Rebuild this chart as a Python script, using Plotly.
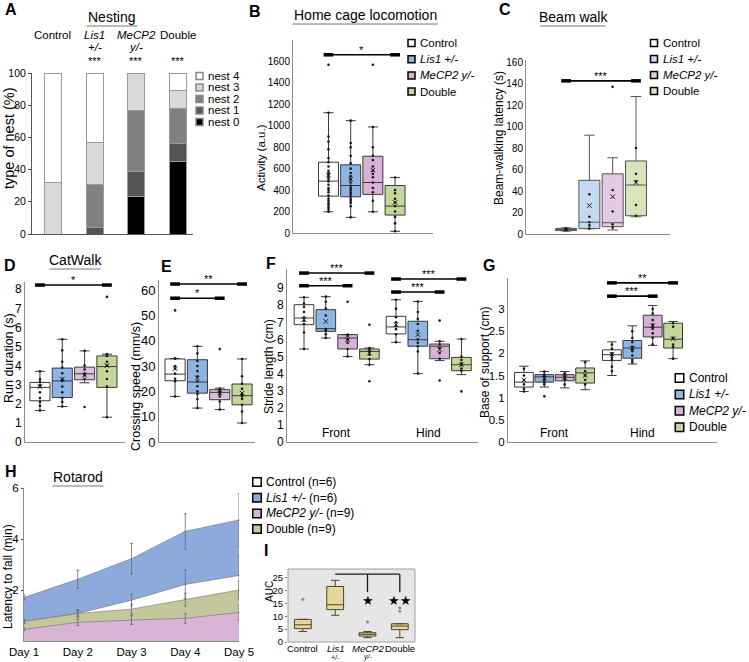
import plotly.graph_objects as go

W, H = 749, 662
FONT = 'Liberation Sans, Arial, sans-serif'

GROUPS = ['Control', 'Lis1 +/-', 'MeCP2 y/-', 'Double']
GROUP_HTML = ['Control', '<i>Lis1 +/-</i>', '<i>MeCP2 y/-</i>', 'Double']

# A - nesting, % of animals per nest score (per group: Control, Lis1, MeCP2, Double)
NEST_LEVELS = ['nest 0', 'nest 1', 'nest 2', 'nest 3', 'nest 4']
NEST_0 = [0, 0, 23, 45]
NEST_1 = [0, 4, 16, 11]
NEST_2 = [0, 27, 38, 22]
NEST_3 = [32, 26, 23, 11]
NEST_4 = [68, 43, 0, 11]
NEST_SIG = ['', '***', '***', '***']

# B - home cage locomotion (a.u.)
B_HI = [1122, 1048, 989, 518]
B_Q3 = [660, 636, 716, 443]
B_MED = [484, 443, 471, 251]
B_Q1 = [344, 338, 360, 167]
B_LO = [198, 146, 198, 16]
B_MEAN = [540, 502, 586, 285]
B_PTS = [
    [1569, 1122, 900, 850, 780, 700, 660, 620, 580, 560, 540, 520, 500, 480,
     450, 420, 400, 380, 350, 320, 300, 280, 260, 240, 220, 198],
    [1048, 840, 800, 720, 650, 600, 560, 530, 500, 470, 440, 420, 400, 380,
     360, 340, 320, 300, 280, 250, 146],
    [1569, 989, 800, 720, 680, 620, 580, 550, 520, 470, 420, 380, 300, 198],
    [518, 400, 370, 320, 285, 250, 200, 150, 90, 16],
]

# C - beam walk latency (s)
C_HI = [5.6, 92, 71, 128]
C_Q3 = [5.2, 50, 56, 68]
C_MED = [4.0, 11, 10.5, 45.6]
C_Q1 = [3.2, 5, 6.8, 17]
C_LO = [2.8, 5, 3.7, 16]
C_MEAN = [4.1, 26.5, 34.7, 48]
C_PTS = [
    [5.2, 4.5, 4.0, 3.5],
    [37, 16, 11, 8, 5],
    [137, 41, 21, 9, 6],
    [80, 56, 49, 27, 17],
]

# D - CatWalk run duration (s)
D_HI = [3.7, 5.38, 4.77, 4.6]
D_Q3 = [3.12, 3.87, 3.92, 4.51]
D_MED = [2.86, 3.2, 3.57, 3.95]
D_Q1 = [2.16, 2.33, 3.26, 2.86]
D_LO = [1.65, 1.86, 3.1, 1.3]
D_MEAN = [2.9, 3.3, 3.5, 4.0]
D_PTS = [
    [3.7, 3.3, 3.15, 3.0, 2.9, 2.6, 2.3, 2.1, 1.9, 1.65],
    [5.38, 4.8, 4.2, 3.9, 3.6, 3.3, 3.2, 2.9, 2.6, 2.3, 2.1, 1.86],
    [4.77, 4.0, 3.8, 3.6, 3.5, 3.3, 1.83],
    [7.6, 4.6, 4.5, 4.2, 4.0, 3.7, 3.3, 2.9, 1.3],
]

# E - crossing speed (mm/s)
E_HI = [33, 37.8, 21.3, 32.8]
E_Q3 = [32.8, 32.5, 20.7, 22.9]
E_MED = [26.8, 23.7, 19.6, 18.3]
E_Q1 = [24.2, 19.3, 16.7, 14.7]
E_LO = [18, 13.4, 12.8, 7.5]
E_MEAN = [29, 25.3, 19.3, 19.3]
E_PTS = [
    [52, 33, 33, 30, 29, 27, 25, 24, 18],
    [37.8, 35, 32, 30, 28, 26, 24, 22, 20, 19, 17, 13.4],
    [36.7, 21, 20.5, 20, 19, 18, 16, 12.8],
    [32.8, 26, 23, 21, 19, 18.5, 18, 17, 14.7, 12, 7.5],
]

# F - stride length (cm), Front groups then Hind groups
F_HI = [8.46, 8.5, 6.28, 5.5, 8.32, 8.22, 5.89, 6.02]
F_Q3 = [8.03, 7.74, 6.28, 5.44, 7.35, 7.06, 5.73, 4.95]
F_MED = [7.25, 6.63, 6.08, 5.3, 6.73, 5.98, 5.6, 4.52]
F_Q1 = [6.86, 6.47, 5.44, 4.85, 6.32, 5.6, 4.87, 4.17]
F_LO = [5.44, 6.08, 5.0, 4.52, 5.83, 4.0, 4.76, 3.94]
F_MEAN = [7.15, 7.05, 5.98, 5.2, 6.86, 6.28, 5.4, 4.52]
F_PTS = [
    [8.46, 8.1, 7.9, 7.6, 7.3, 7.1, 6.9, 6.4, 5.44],
    [8.5, 8.2, 7.8, 7.4, 6.6, 6.5, 6.3, 6.08],
    [8.2, 6.28, 6.2, 6.0, 5.8, 5.44, 5.0],
    [6.86, 5.5, 5.4, 5.3, 5.1, 4.85, 4.52, 3.55],
    [8.32, 7.8, 7.3, 7.0, 6.8, 6.6, 6.3, 5.83],
    [8.22, 7.6, 7.2, 6.9, 6.5, 6.0, 5.8, 5.6, 5.3, 4.0],
    [7.1, 5.89, 5.7, 5.5, 5.2, 4.87, 3.6],
    [6.02, 5.0, 4.8, 4.6, 4.5, 4.3, 4.17, 2.96],
]

# G - base of support (cm), Front groups then Hind groups
G_HI = [1.71, 1.59, 1.59, 1.83, 2.26, 2.62, 3.08, 2.72]
G_Q3 = [1.57, 1.52, 1.52, 1.67, 2.08, 2.29, 2.86, 2.68]
G_MED = [1.35, 1.47, 1.46, 1.56, 1.97, 2.12, 2.59, 2.32]
G_Q1 = [1.24, 1.35, 1.38, 1.33, 1.84, 1.89, 2.37, 2.12]
G_LO = [1.14, 1.24, 1.22, 1.18, 1.5, 1.76, 2.18, 1.88]
G_MEAN = [1.4, 1.44, 1.45, 1.5, 1.98, 2.12, 2.62, 2.33]
G_PTS = [
    [1.65, 1.5, 1.4, 1.3, 1.2, 1.14],
    [1.59, 1.52, 1.48, 1.45, 1.4, 1.35, 1.3, 1.03],
    [1.55, 1.5, 1.45, 1.4, 1.3],
    [1.8, 1.6, 1.5, 1.4, 1.3],
    [2.2, 2.1, 2.0, 1.95, 1.9, 1.85, 1.7, 1.6],
    [2.5, 2.35, 2.25, 2.15, 2.1, 2.05, 1.95, 1.85, 1.8],
    [3.0, 2.9, 2.75, 2.65, 2.6, 2.55, 2.45, 2.35, 2.2],
    [2.68, 2.6, 2.35, 2.2, 2.15, 1.88],
]
SIDES = ['Front', 'Hind']

# H - rotarod latency to fall (min), mean and error
DAYS = ['Day 1', 'Day 2', 'Day 3', 'Day 4', 'Day 5']
ROT_CONTROL = [0.76, 1.08, 1.6, 2.22, 2.57]
ROT_LIS1 = [1.71, 2.42, 3.23, 4.3, 4.75]
ROT_MECP2 = [0.46, 0.73, 0.82, 0.89, 1.12]
ROT_DOUBLE = [0.76, 1.08, 1.25, 1.62, 2.0]
ROT_CONTROL_ERR = [0.08, 0.15, 0.23, 0.57, 0.8]
ROT_LIS1_ERR = [0.1, 0.36, 0.6, 0.69, 1.04]
ROT_MECP2_ERR = [0.05, 0.12, 0.17, 0.2, 0.3]
ROT_DOUBLE_ERR = [0.06, 0.1, 0.2, 0.25, 0.35]
ROT_N = [6, 6, 9, 9]

# I - rotarod AUC
I_HI = [8.8, 24.0, 4.1, 7.1]
I_Q3 = [8.8, 21.6, 3.6, 7.1]
I_MED = [6.7, 14.5, 3.0, 6.2]
I_Q1 = [5.2, 12.6, 2.3, 4.8]
I_LO = [4.1, 10.4, 1.7, 1.7]
I_OUT = [[16.6], [], [7.8], [13.3, 12.0]]
I_SIG = ['', '', '★', '★★']

BOX_COLORS = ['#ffffff', '#8db4e2', '#d8b2d6', '#c4d79b']
BEAM_COLORS = ['#ffffff', '#c5d9f1', '#e4c9e2', '#d7e4bc']
ROT_COLORS = ['#ffffff', '#8eaadc', '#d7b4d3', '#c4c79b']
NEST_COLORS = ['#000000', '#555555', '#808080', '#d9d9d9', '#ffffff']


def px(x):
    return x / W


def py(y):
    return 1 - y / H


# subplot frames in pixels: (x0, x1), (ytop, ybottom), and data ranges
AXES = {
    '': dict(x=(32, 193), y=(73, 234), xr=[-0.5, 3.36], yr=[0, 100]),
    '2': dict(x=(293, 433), y=(40, 233), xr=[-1.6, 4.71], yr=[0, 1800]),
    '3': dict(x=(526, 670), y=(60, 234), xr=[-1.72, 4.46], yr=[0, 162]),
    '4': dict(x=(25, 125), y=(281.6, 442), xr=[-0.67, 3.81], yr=[0, 8.4]),
    '5': dict(x=(159, 255), y=(280, 442), xr=[-0.72, 3.58], yr=[0, 64]),
    '6': dict(x=(287, 478), y=(269.3, 442), xr=[-0.78, 7.98], yr=[0, 10.1]),
    '7': dict(x=(508, 717), y=(278, 442), xr=[-0.78, 9.46], yr=[0, 3.7]),
    '8': dict(x=(24, 239), y=(488, 641), xr=[1, 5], yr=[0, 6]),
    '9': dict(x=(288, 415), y=(569, 642), xr=[-0.46, 3.47], yr=[0, 28.4]),
}

fig = go.Figure()
annotations = []
shapes = []


def ann(text, x, y, size=11, xanchor='center', yanchor='middle', **kw):
    annotations.append(dict(
        text=text, x=px(x), y=py(y), xref='paper', yref='paper',
        xanchor=xanchor, yanchor=yanchor, showarrow=False,
        font=dict(family=FONT, size=size, color=kw.pop('color', '#000')),
        **kw))


def title(text, x, y, size=14):
    ann(text, x, y, size=size)
    half = len(text) * size * 0.26
    shapes.append(dict(type='line', xref='paper', yref='paper',
                       x0=px(x - half), x1=px(x + half),
                       y0=py(y + 9), y1=py(y + 9),
                       line=dict(color='#777', width=1)))


def legend(items, colors, x, y0, step, size=11.5, sq=7, edge='#000'):
    for i, (label, col) in enumerate(zip(items, colors)):
        yc = y0 + i * step
        shapes.append(dict(type='rect', xref='paper', yref='paper',
                           x0=px(x - sq / 2), x1=px(x + sq / 2),
                           y0=py(yc + sq / 2), y1=py(yc - sq / 2),
                           fillcolor=col, line=dict(color=edge, width=1.5)))
        ann(label, x + sq / 2 + 3, yc, size=size, xanchor='left')


def add_boxes(ax, pos, hi, q3, med, q1, lo, colors, width=0.9,
              mean=None, pts=None, line='#3a3a3a'):
    for i, p in enumerate(pos):
        fig.add_trace(go.Box(
            x=[p], q1=[q1[i]], median=[med[i]], q3=[q3[i]],
            lowerfence=[lo[i]], upperfence=[hi[i]],
            orientation='v', width=width, whiskerwidth=0.5,
            fillcolor=colors[i % len(colors)],
            line=dict(color=line, width=1), boxpoints=False,
            xaxis='x' + ax, yaxis='y' + ax, showlegend=False,
            hoverinfo='skip'))
        if pts is not None and pts[i]:
            fig.add_trace(go.Scatter(
                x=[p] * len(pts[i]), y=pts[i], mode='markers',
                marker=dict(size=2.6, color='#1a1a1a'),
                xaxis='x' + ax, yaxis='y' + ax, showlegend=False,
                hoverinfo='skip'))
        if mean is not None:
            fig.add_trace(go.Scatter(
                x=[p], y=[mean[i]], mode='markers',
                marker=dict(symbol='x-thin', size=4.5,
                            line=dict(width=1, color='#1a1a1a')),
                xaxis='x' + ax, yaxis='y' + ax, showlegend=False,
                hoverinfo='skip'))


def sig(ax, x0, x1, y, text, size=11):
    fig.add_trace(go.Scatter(
        x=[x0, x1], y=[y, y], mode='lines+markers',
        line=dict(color='#000', width=1.6),
        marker=dict(symbol='line-ew', size=7,
                    line=dict(width=3.5, color='#000')),
        xaxis='x' + ax, yaxis='y' + ax, showlegend=False,
        hoverinfo='skip', cliponaxis=False))
    annotations.append(dict(
        text=text, x=(x0 + x1) / 2, y=y, xref='x' + ax, yref='y' + ax,
        yanchor='bottom', yshift=-3, showarrow=False,
        font=dict(family=FONT, size=size, color='#000')))


# ---------- A: nesting ----------
grp_pos = list(range(len(GROUPS)))
for name, vals, col in zip(NEST_LEVELS,
                           [NEST_0, NEST_1, NEST_2, NEST_3, NEST_4],
                           NEST_COLORS):
    fig.add_trace(go.Bar(
        x=grp_pos, y=vals, width=0.41, name=name,
        marker=dict(color=col, line=dict(color='#9a9a9a', width=1)),
        xaxis='x', yaxis='y', showlegend=False, hoverinfo='skip'))

a_labels = ['Control', '<i>Lis1</i>', '<i>MeCP2</i>', 'Double']
a_sub = ['', '<i>+/-</i>', '<i>y/-</i>', '']
for i in grp_pos:
    annotations.append(dict(text=a_labels[i], x=i, y=py(35), xref='x',
                            yref='paper', yanchor='middle', showarrow=False,
                            font=dict(family=FONT, size=11.5, color='#000')))
    if a_sub[i]:
        annotations.append(dict(text=a_sub[i], x=i, y=py(47), xref='x',
                                yref='paper', yanchor='middle',
                                showarrow=False,
                                font=dict(family=FONT, size=11.5,
                                          color='#000')))
    if NEST_SIG[i]:
        annotations.append(dict(text=NEST_SIG[i], x=i, y=py(61), xref='x',
                                yref='paper', yanchor='middle',
                                showarrow=False,
                                font=dict(family=FONT, size=11, color='#000')))
legend(['nest 4', 'nest 3', 'nest 2', 'nest 1', 'nest 0'],
       NEST_COLORS[::-1], 199.5, 76, 11.5, size=11.5, sq=7, edge='#888')

# ---------- B: home cage ----------
add_boxes('2', grp_pos, B_HI, B_Q3, B_MED, B_Q1, B_LO, BOX_COLORS,
          mean=B_MEAN, pts=B_PTS)
sig('2', 0, 3, 1662, '*')
legend(GROUP_HTML, BOX_COLORS, 411.5, 43, 16.2)

# ---------- C: beam walk ----------
add_boxes('3', grp_pos, C_HI, C_Q3, C_MED, C_Q1, C_LO, BEAM_COLORS,
          mean=C_MEAN, pts=C_PTS, line='#555')
sig('3', 0, 3, 142.6, '***')
legend(GROUP_HTML, BEAM_COLORS, 654, 43, 16)

# ---------- D: CatWalk ----------
add_boxes('4', grp_pos, D_HI, D_Q3, D_MED, D_Q1, D_LO,
          ['#ffffff', '#8db4e2', '#dcc0dc', '#c4d79b'],
          mean=D_MEAN, pts=D_PTS)
sig('4', 0, 3, 8.22, '*')

# ---------- E: crossing speed ----------
add_boxes('5', grp_pos, E_HI, E_Q3, E_MED, E_Q1, E_LO,
          ['#ffffff', '#8db4e2', '#dcc0dc', '#c4d79b'],
          mean=E_MEAN, pts=E_PTS)
sig('5', 0, 3, 62.4, '**')
sig('5', 0, 2, 56.8, '*')

# ---------- F: stride length ----------
f_pos = [i if i < 4 else i + 0.22 for i in range(8)]
add_boxes('6', f_pos, F_HI, F_Q3, F_MED, F_Q1, F_LO, BOX_COLORS,
          mean=F_MEAN, pts=F_PTS)
sig('6', f_pos[0], f_pos[3], 9.88, '***')
sig('6', f_pos[0], f_pos[2], 9.14, '***')
sig('6', f_pos[4], f_pos[7], 9.53, '***')
sig('6', f_pos[4], f_pos[6], 8.77, '***')
for k, side in enumerate(SIDES):
    annotations.append(dict(text=side, x=(f_pos[4 * k] + f_pos[4 * k + 3]) / 2,
                            y=0, xref='x6', yref='y6 domain',
                            yanchor='bottom', showarrow=False,
                            font=dict(family=FONT, size=12, color='#000')))

# ---------- G: base of support ----------
g_pos = [i if i < 4 else i + 0.31 for i in range(8)]
add_boxes('7', g_pos, G_HI, G_Q3, G_MED, G_Q1, G_LO, BOX_COLORS,
          width=0.92, mean=G_MEAN, pts=G_PTS)
sig('7', g_pos[4], g_pos[7], 3.59, '**')
sig('7', g_pos[4], g_pos[6], 3.29, '***')
for k, side in enumerate(SIDES):
    annotations.append(dict(text=side, x=(g_pos[4 * k] + g_pos[4 * k + 3]) / 2,
                            y=0, xref='x7', yref='y7 domain',
                            yanchor='bottom', showarrow=False,
                            font=dict(family=FONT, size=12, color='#000')))
legend(GROUP_HTML, BOX_COLORS, 679.5, 378, 16.4, size=12, sq=8.5)

# ---------- H: rotarod ----------
day_x = list(range(1, len(DAYS) + 1))
for vals, col in zip([ROT_LIS1, ROT_CONTROL, ROT_DOUBLE, ROT_MECP2],
                     [ROT_COLORS[1], ROT_COLORS[0], ROT_COLORS[3],
                      ROT_COLORS[2]]):
    fig.add_trace(go.Scatter(
        x=day_x, y=vals, mode='lines', fill='tozeroy', fillcolor=col,
        line=dict(color='#6e6e6e', width=0.6),
        xaxis='x8', yaxis='y8', showlegend=False, hoverinfo='skip'))
for vals, err in zip([ROT_LIS1, ROT_CONTROL, ROT_DOUBLE, ROT_MECP2],
                     [ROT_LIS1_ERR, ROT_CONTROL_ERR, ROT_DOUBLE_ERR,
                      ROT_MECP2_ERR]):
    fig.add_trace(go.Scatter(
        x=day_x, y=vals, mode='markers', marker=dict(size=1, color='#666'),
        error_y=dict(type='data', array=err, color='#6a6a6a',
                     thickness=0.8, width=1.5),
        xaxis='x8', yaxis='y8', showlegend=False, hoverinfo='skip',
        cliponaxis=False))
legend([f'{g} (n={n})' for g, n in zip(GROUP_HTML, ROT_N)], ROT_COLORS,
       257, 482, 15.7, size=12, sq=8.5)

# ---------- I: AUC ----------
shapes.append(dict(type='rect', xref='x9 domain', yref='y9 domain',
                   x0=0, x1=1, y0=0, y1=1, layer='below',
                   fillcolor='#e6e6e6', line=dict(color='#a0a0a0', width=1)))
add_boxes('9', grp_pos, I_HI, I_Q3, I_MED, I_Q1, I_LO, ['#e3d79d'] * 4,
          width=0.52, line='#4d4528')
for i, outs in enumerate(I_OUT):
    if outs:
        fig.add_trace(go.Scatter(
            x=[i] * len(outs), y=outs, mode='markers',
            marker=dict(size=3, color='#8a8a8a'),
            xaxis='x9', yaxis='y9', showlegend=False, hoverinfo='skip'))
fig.add_trace(go.Scatter(
    x=[1, 3, None, 2, 2, None, 3, 3],
    y=[26.4, 26.4, None, 26.4, 19.4, None, 26.4, 19.4],
    mode='lines', line=dict(color='#1a1a1a', width=1.3),
    xaxis='x9', yaxis='y9', showlegend=False, hoverinfo='skip',
    cliponaxis=False))
for i, s in enumerate(I_SIG):
    if s:
        annotations.append(dict(text=s, x=i, y=16, xref='x9', yref='y9',
                                showarrow=False,
                                font=dict(family='DejaVu Sans', size=13,
                                          color='#000')))
i_labels = ['Control', '<i>Lis1</i>', '<i>MeCP2</i>', 'Double']
i_sub = ['', '<i>+/-</i>', '<i>y/-</i>', '']
for i, (lab, sub) in enumerate(zip(i_labels, i_sub)):
    annotations.append(dict(text=lab, x=i, y=py(648), xref='x9',
                            yref='paper', yanchor='middle', showarrow=False,
                            font=dict(family=FONT, size=9.5, color='#000')))
    if sub:
        annotations.append(dict(text=sub, x=i, y=py(657), xref='x9',
                                yref='paper', yanchor='middle',
                                showarrow=False,
                                font=dict(family=FONT, size=7, color='#000')))

# ---------- titles / letters ----------
title('Nesting', 112, 17)
title('Home cage locomotion', 365, 15)
title('Beam walk', 573, 17)
title('CatWalk', 75, 260)
title('Rotarod', 78, 477)
for letter, x, y in [('A', 3, 10), ('B', 247, 12), ('C', 497, 10),
                     ('D', 2, 265), ('E', 159, 267), ('F', 264, 263),
                     ('G', 481, 265), ('H', 3, 472), ('I', 262, 550)]:
    ann(f'<b>{letter}</b>', x, y, size=16, xanchor='left')

# ---------- axes ----------
layout_axes = {}
y_titles = {
    '': ('type of nest (%)', 14.5, (9, 138), list(range(0, 101, 20)), 10.5),
    '2': ('Activity (a.u.)', 11.5, (261, 158), list(range(0, 1601, 200)), 10),
    '3': ('Beam-walking latency (s)', 12, (499, 138),
          list(range(0, 161, 20)), 10),
    '4': ('Run duration (s)', 12.5, (9, 358), list(range(0, 9)), 12),
    '5': ('Crossing speed (mm/s)', 12.5, (136, 387),
          list(range(0, 61, 10)), 13),
    '6': ('Stride length (cm)', 12, (269, 367), list(range(0, 10)), 12),
    '7': ('Base of support (cm)', 12, (485, 363),
          [0, 0.5, 1, 1.5, 2, 2.5, 3], 11.5),
    '8': ('Latency to fall (min)', 12, (8, 577), [2, 4, 6], 11.5),
    '9': ('AUC', 10, (269, 592), [0, 5, 10, 15, 20, 25], 9.5),
}
for k, a in AXES.items():
    ytxt, tsize, tpos, tvals, ticksize = y_titles[k]
    ann(ytxt, tpos[0], tpos[1], size=tsize, textangle=-90)
    xa = dict(domain=[px(a['x'][0]), px(a['x'][1])], range=a['xr'],
              anchor='y' + k, showgrid=False, zeroline=False,
              showline=True, linecolor='#8c8c8c', linewidth=1,
              showticklabels=False, ticks='', fixedrange=True,
              automargin=False)
    ya = dict(domain=[py(a['y'][1]), py(a['y'][0])], range=a['yr'],
              anchor='x' + k, showgrid=False, zeroline=False,
              showline=True, linecolor='#8c8c8c', linewidth=1,
              tickvals=tvals, ticks='', ticklen=3,
              tickfont=dict(family=FONT, size=ticksize, color='#000'),
              fixedrange=True, automargin=False)
    layout_axes['xaxis' + k] = xa
    layout_axes['yaxis' + k] = ya

layout_axes['yaxis'].update(ticks='outside', ticklen=3, linecolor='#555')
layout_axes['xaxis']['linecolor'] = '#555'
layout_axes['yaxis8'].update(ticks='outside', ticklen=2)
layout_axes['xaxis8'].update(showticklabels=True, tickvals=day_x,
                             ticktext=DAYS, ticks='', tickangle=0,
                             tickfont=dict(family=FONT, size=11.5,
                                           color='#000'))
layout_axes['xaxis9'].update(showline=False)
layout_axes['yaxis9'].update(showline=False, ticks='outside', ticklen=2,
                             tickcolor='#777')

fig.update_layout(
    width=W, height=H, margin=dict(l=0, r=0, t=0, b=0, autoexpand=False),
    paper_bgcolor='white', plot_bgcolor='rgba(0,0,0,0)',
    barmode='stack', showlegend=False,
    font=dict(family=FONT, color='#000'),
    annotations=annotations, shapes=shapes,
    **layout_axes,
)

# the page body has a default 8 px margin; drop it so the figure sits at 0,0
fig.write_html('out.html', config={'displayModeBar': False},
               post_script="document.body.style.margin='0';")
